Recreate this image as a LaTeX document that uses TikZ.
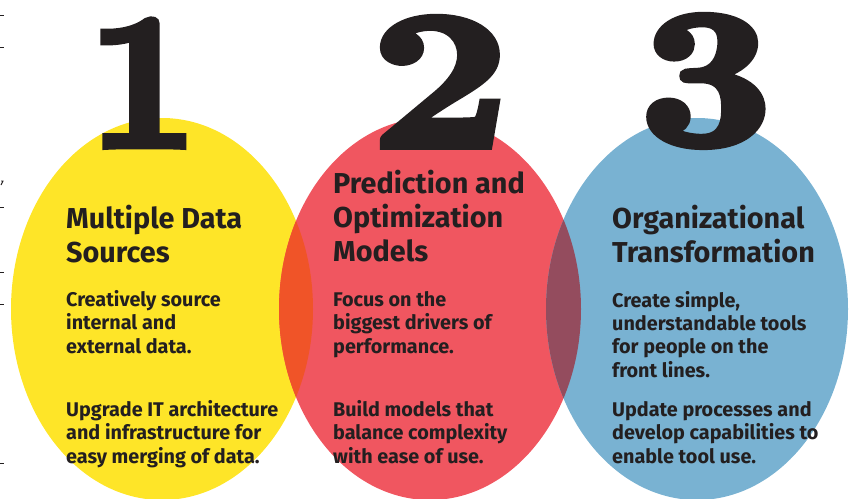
\documentclass[tikz,border=0pt]{standalone}
\usepackage{fontspec}
\setsansfont{Fira Sans}
\newfontfamily\numfont{lmroman10-bold.otf}[FakeBold=4]
\usepackage{graphicx}
\definecolor{cyel}{RGB}{254,229,40}
\definecolor{cred}{RGB}{240,86,96}
\definecolor{cblue}{RGB}{121,178,210}
\definecolor{corange}{RGB}{240,84,40}
\definecolor{cmaroon}{RGB}{148,76,94}
\definecolor{cink}{RGB}{35,31,32}
\tikzset{
  heading/.style={anchor=base west, inner sep=0pt, align=left, text=cink,
    font=\sffamily\bfseries\fontsize{28.8}{34}\selectfont},
  body/.style={anchor=base west, inner sep=0pt, align=left, text=cink,
    font=\sffamily\bfseries\fontsize{19.8}{23.3}\selectfont},
  numeral/.style={anchor=base, inner sep=0pt, text=cink,
    font=\numfont\fontsize{192}{192}\selectfont},
  tick/.style={draw=cink, line width=0.9pt}
}
\begin{document}
\begin{tikzpicture}[x=1pt,y=-1pt]
\useasboundingbox (0,0) rectangle (854,498);
% circles
\fill[cyel] (162,309) ellipse [x radius=151, y radius=191];
\fill[cred] (430,309) ellipse [x radius=151, y radius=191];
\fill[cblue] (697,309) ellipse [x radius=151, y radius=191];
\begin{scope}
  \clip (162,309) ellipse [x radius=151, y radius=191];
  \fill[corange] (430,309) ellipse [x radius=151, y radius=191];
\end{scope}
\begin{scope}
  \clip (430,309) ellipse [x radius=151, y radius=191];
  \fill[cmaroon] (697,309) ellipse [x radius=151, y radius=191];
\end{scope}
% numerals
\node[numeral] (n1) at (143,146) {1};
\node[numeral] (n2) at (440,146) {\scalebox{1.25}[1.02]{2}};
\node[numeral] (n3) at (706,144) {\scalebox{1.2}[1.02]{3}};
% headings
\node[heading] (h1) at (66,262) {Multiple Data\\Sources};
\node[heading] (h2) at (333,261) {Prediction and\\Optimization\\Models};
\node[heading] (h3) at (612,262) {Organizational\\Transformation};
% body
\node[body] (b1a) at (66,353) {Creatively source\\internal and\\external data.};
\node[body] (b1b) at (66,463) {Upgrade IT architecture\\and infrastructure for\\easy merging of data.};
\node[body] (b2a) at (333,353) {Focus on the\\biggest drivers of\\performance.};
\node[body] (b2b) at (333,463) {Build models that\\balance complexity\\with ease of use.};
\node[body] (b3a) at (612,377) {Create simple,\\understandable tools\\for people on the\\front lines.};
\node[body] (b3b) at (612,463) {Update processes and\\develop capabilities to\\enable tool use.};
% left edge ticks
\foreach \yy in {15,47,207,272,304,463} \draw[tick] (0,\yy) -- (4,\yy);
\draw[tick] (1,181) -- (3,181) -- (1,185);
\end{tikzpicture}
\end{document}
